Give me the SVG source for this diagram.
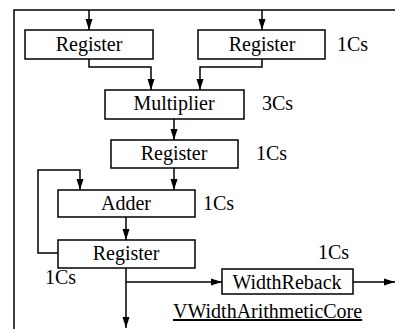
<svg xmlns="http://www.w3.org/2000/svg" width="395" height="329" viewBox="0 0 395 329">
<defs>
<marker id="ah" markerWidth="12" markerHeight="8" refX="11" refY="4" orient="auto" markerUnits="userSpaceOnUse">
<path d="M0,0.5 L11,4 L0,7.5 Z" fill="#000"/>
</marker>
<style>
.box{fill:#fff;stroke:#000;stroke-width:1.5}
.ln{fill:none;stroke:#000;stroke-width:1.5}
.ar{fill:none;stroke:#000;stroke-width:1.5;marker-end:url(#ah)}
.c{text-anchor:middle}
</style>
</defs>
<rect width="395" height="329" fill="#fff"/>
<g id="frame">
<path class="ln" d="M14,329 V10 H395"/>
</g>
<g id="connectors">
<path class="ar" d="M89,10 V30"/>
<path class="ar" d="M262,10 V30"/>
<path class="ar" d="M89,59 V67 H151 V90"/>
<path class="ar" d="M262,59 V67 H200 V90"/>
<path class="ar" d="M174,119 V140"/>
<path class="ar" d="M174,168 V190"/>
<path class="ar" d="M58,253 H38 V170 H80 V190"/>
<path class="ar" d="M126,217 V240"/>
<path class="ar" d="M126,268 V328"/>
<path class="ar" d="M126,282 H222"/>
<path class="ar" d="M353,282 H395"/>
</g>
<g id="register1"><rect class="box" x="25" y="30" width="128" height="29"/><text class="c" style="font-family:'Liberation Serif','Times New Roman',serif;font-size:20px" x="89" y="51">Register</text></g>
<g id="register2"><rect class="box" x="198" y="30" width="127" height="29"/><text class="c" style="font-family:'Liberation Serif','Times New Roman',serif;font-size:20px" x="262" y="51">Register</text><text style="font-family:'Liberation Serif','Times New Roman',serif;font-size:20px" x="337" y="51">1Cs</text></g>
<g id="multiplier"><rect class="box" x="105" y="90" width="139" height="29"/><text class="c" style="font-family:'Liberation Serif','Times New Roman',serif;font-size:20px" x="174" y="110">Multiplier</text><text style="font-family:'Liberation Serif','Times New Roman',serif;font-size:20px" x="262" y="110">3Cs</text></g>
<g id="register3"><rect class="box" x="111" y="140" width="127" height="28"/><text class="c" style="font-family:'Liberation Serif','Times New Roman',serif;font-size:20px" x="174" y="160">Register</text><text style="font-family:'Liberation Serif','Times New Roman',serif;font-size:20px" x="256" y="160">1Cs</text></g>
<g id="adder"><rect class="box" x="58" y="190" width="137" height="27"/><text class="c" style="font-family:'Liberation Serif','Times New Roman',serif;font-size:20px" x="126" y="210">Adder</text><text style="font-family:'Liberation Serif','Times New Roman',serif;font-size:20px" x="203" y="210">1Cs</text></g>
<g id="register4"><rect class="box" x="58" y="240" width="137" height="28"/><text class="c" style="font-family:'Liberation Serif','Times New Roman',serif;font-size:20px" x="126" y="260">Register</text><text style="font-family:'Liberation Serif','Times New Roman',serif;font-size:20px" x="45" y="284">1Cs</text></g>
<g id="widthreback"><rect class="box" x="222" y="269" width="131" height="25"/><text class="c" style="font-family:'Liberation Serif','Times New Roman',serif;font-size:20px" x="287" y="289">WidthReback</text><text style="font-family:'Liberation Serif','Times New Roman',serif;font-size:20px" x="318" y="259">1Cs</text></g>
<g id="label"><text style="font-family:'Liberation Serif','Times New Roman',serif;font-size:20px" x="173" y="318" text-decoration="underline">VWidthArithmeticCore</text></g>
</svg>
